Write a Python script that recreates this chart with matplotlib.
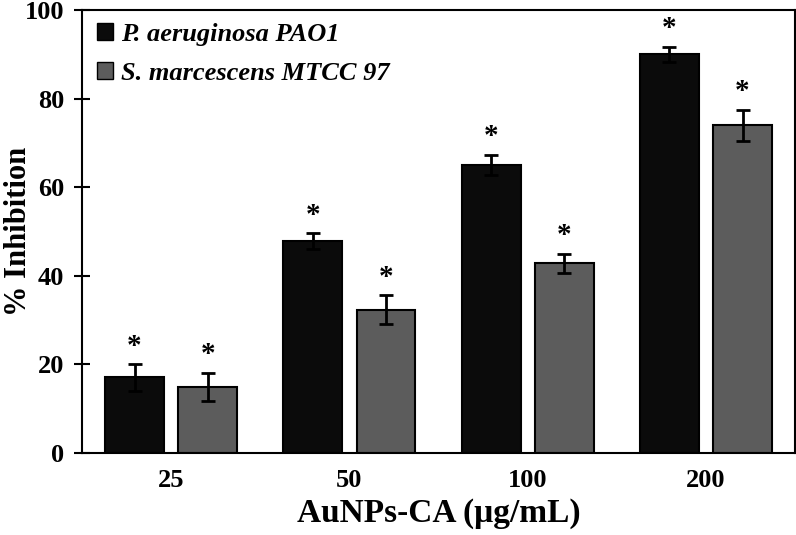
import numpy as np
import matplotlib.pyplot as plt
from matplotlib.patches import Patch

plt.rcParams['font.family'] = ['Liberation Serif', 'DejaVu Serif']
plt.rcParams['font.weight'] = 'bold'
plt.rcParams['axes.labelweight'] = 'bold'

concs = ["25", "50", "100", "200"]
pao1 = [17.0, 47.8, 65.0, 90.0]
pao1_err = [3.0, 1.8, 2.3, 1.7]
smar = [14.9, 32.3, 42.8, 74.0]
smar_err = [3.2, 3.3, 2.2, 3.5]

fig = plt.figure(figsize=(7.96, 5.35), dpi=100)
ax = fig.add_axes([0.103, 0.154, 0.896, 0.827])

x = np.arange(len(concs))
w = 0.33
off = 0.205
ek = dict(ecolor='black', elinewidth=2, capsize=5, capthick=2)
ax.bar(x - off, pao1, w, yerr=pao1_err, color='#0b0b0b', edgecolor='black', lw=1.5, error_kw=ek)
ax.bar(x + off, smar, w, yerr=smar_err, color='#5c5c5c', edgecolor='black', lw=1.5, error_kw=ek)

for xi, v, e in zip(x - off, pao1, pao1_err):
    ax.text(xi, v + e + 1.0, '*', ha='center', va='bottom', fontsize=21, fontweight='bold')
for xi, v, e in zip(x + off, smar, smar_err):
    ax.text(xi, v + e + 1.0, '*', ha='center', va='bottom', fontsize=21, fontweight='bold')

ax.set_xlim(-0.5, 3.5)
ax.set_ylim(0, 100)
ax.set_yticks(np.arange(0, 101, 20))
ax.set_xticks(x)
ax.set_xticklabels(concs)
ax.tick_params(axis='y', direction='inout', length=12, width=1.5, labelsize=19, pad=7)
ax.tick_params(axis='x', length=0, labelsize=19, pad=12)
for lbl in ax.get_xticklabels() + ax.get_yticklabels():
    lbl.set_fontweight('bold')
for s in ax.spines.values():
    s.set_linewidth(1.5)

ax.set_xlabel('AuNPs-CA (μg/mL)', fontsize=24, fontweight='bold', labelpad=4)
ax.set_ylabel('% Inhibition', fontsize=22, fontweight='bold')
ax.yaxis.set_label_coords(-0.068, 0.5)

handles = [Patch(facecolor='#0b0b0b', edgecolor='black'),
           Patch(facecolor='#5c5c5c', edgecolor='black')]
ax.legend(handles, ['P. aeruginosa PAO1', 'S. marcescens MTCC 97'],
          loc='upper left', frameon=False, handlelength=0.6, handleheight=0.6,
          handletextpad=0.3, labelspacing=0.6,
          prop={'style': 'italic', 'weight': 'bold', 'size': 19},
          bbox_to_anchor=(-0.012, 1.025))

fig.savefig('out.png', dpi=100)
